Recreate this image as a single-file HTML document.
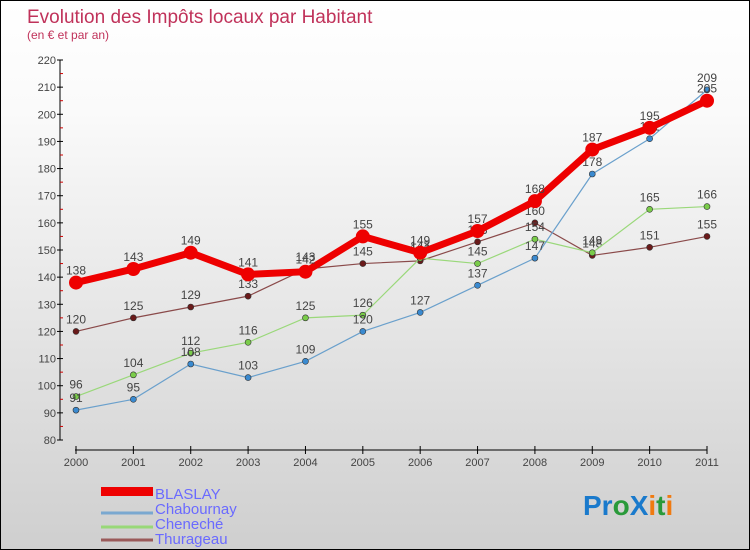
<!DOCTYPE html>
<html><head><meta charset="utf-8"><style>
body{margin:0}
#c{width:748px;height:548px;border:1px solid #000;background:linear-gradient(#fff,#fafafa 20%,#cfcfcf);position:relative;font-family:"Liberation Sans",sans-serif}
</style></head><body>
<div id="c">
<svg id="s" width="748" height="548" style="position:absolute;left:0;top:0">
<text x="26" y="22" font-size="19" fill="#c0325a">Evolution des Impôts locaux par Habitant</text>
<text x="26" y="38" font-size="12" fill="#c0325a">(en € et par an)</text>
<line x1="59" y1="59" x2="59" y2="439" stroke="#000"/>
<line x1="74" y1="449" x2="706" y2="449" stroke="#000"/>
<g id="ax"></g><g id="ser"></g>
<g font-size="15" fill="#6a6aff">
<rect x="100" y="486" width="52" height="9" fill="#e00"/>
<text x="154" y="498">BLASLAY</text>
<line x1="100" y1="512" x2="152" y2="512" stroke="#7aa8d0" stroke-width="3"/>
<text x="154" y="513">Chabournay</text>
<line x1="100" y1="526" x2="152" y2="526" stroke="#98d878" stroke-width="3"/>
<text x="154" y="528">Cheneché</text>
<line x1="100" y1="539" x2="152" y2="539" stroke="#9a5a5a" stroke-width="3"/>
<text x="154" y="543">Thurageau</text>
</g>
<text x="582" y="514" font-size="28" font-weight="bold"><tspan fill="#1a7acc">Pr</tspan><tspan fill="#2a9a3a">o</tspan><tspan fill="#1a7acc">X</tspan><tspan fill="#f07a10">i</tspan><tspan fill="#2a9a3a">t</tspan><tspan fill="#f07a10">i</tspan></text>
</svg></div>
<script>
const years=["2000","2001","2002","2003","2004","2005","2006","2007","2008","2009","2010","2011"];
const yTicks=[80,90,100,110,120,130,140,150,160,170,180,190,200,210,220];
const blaslay=[138,143,149,141,142,155,149,157,168,187,195,205];
const chabournay=[91,95,108,103,109,120,127,137,147,178,191,209];
const cheneche=[96,104,112,116,125,126,147,145,154,149,165,166];
const thurageau=[120,125,129,133,143,145,146,153,160,148,151,155];
const NS="http://www.w3.org/2000/svg";
const xS=i=>75+i*(631/11);
const yS=v=>439-(v-80)*(380/140);
function mk(t,a,p){const e=document.createElementNS(NS,t);for(const k in a)e.setAttribute(k,a[k]);p.appendChild(e);return e;}
const ax=document.getElementById('ax');
yTicks.forEach(v=>{const y=yS(v);
 const l=mk('line',{x1:56,x2:62,y1:y,y2:y,stroke:'#000'},ax);
 
 
 const t=mk('text',{x:55,y:y+4,'text-anchor':'end','font-size':11,fill:'#444'},ax);t.textContent=v;
 
 
 if(v<220){const m=mk('line',{x1:59,x2:62,y1:yS(v+5),y2:yS(v+5),stroke:'#c00'},ax);
 
 }
});
years.forEach((yr,i)=>{const x=xS(i);
 const l=mk('line',{x1:x,x2:x,y1:445,y2:453,stroke:'#000'},ax);
 
 
 const t=mk('text',{x:x,y:465,'text-anchor':'middle','font-size':11,fill:'#444'},ax);t.textContent=yr;
 
 
});
const sg=document.getElementById('ser');
function series(d,name,col,w,r,dot){
 const g=mk('g',{},sg);
 
 
 const p=mk('polyline',{points:d.map((v,i)=>xS(i)+','+yS(v)).join(' '),fill:'none',stroke:col,'stroke-width':w},g);
 
 
 d.forEach((v,i)=>{
  const c=mk('circle',{cx:xS(i),cy:yS(v),r:r,fill:dot,stroke:'#333','stroke-width':r>4?0:0.6},g);
  
  
  const t=mk('text',{x:xS(i),y:yS(v)-8,'text-anchor':'middle','font-size':12,fill:'#444'},g);t.textContent=v;
  
  
 });
}
series(thurageau,'thurageau','#8a4a4a',1.2,3,'#6a1a1a');
series(cheneche,'cheneche','#9ad87a',1.2,3,'#7acc4a');
series(chabournay,'chabournay','#6aa0cc',1.2,3,'#3a8ad0');
series(blaslay,'blaslay','#ee0000',7,7,'#ee0000');
</script>
</body></html>
